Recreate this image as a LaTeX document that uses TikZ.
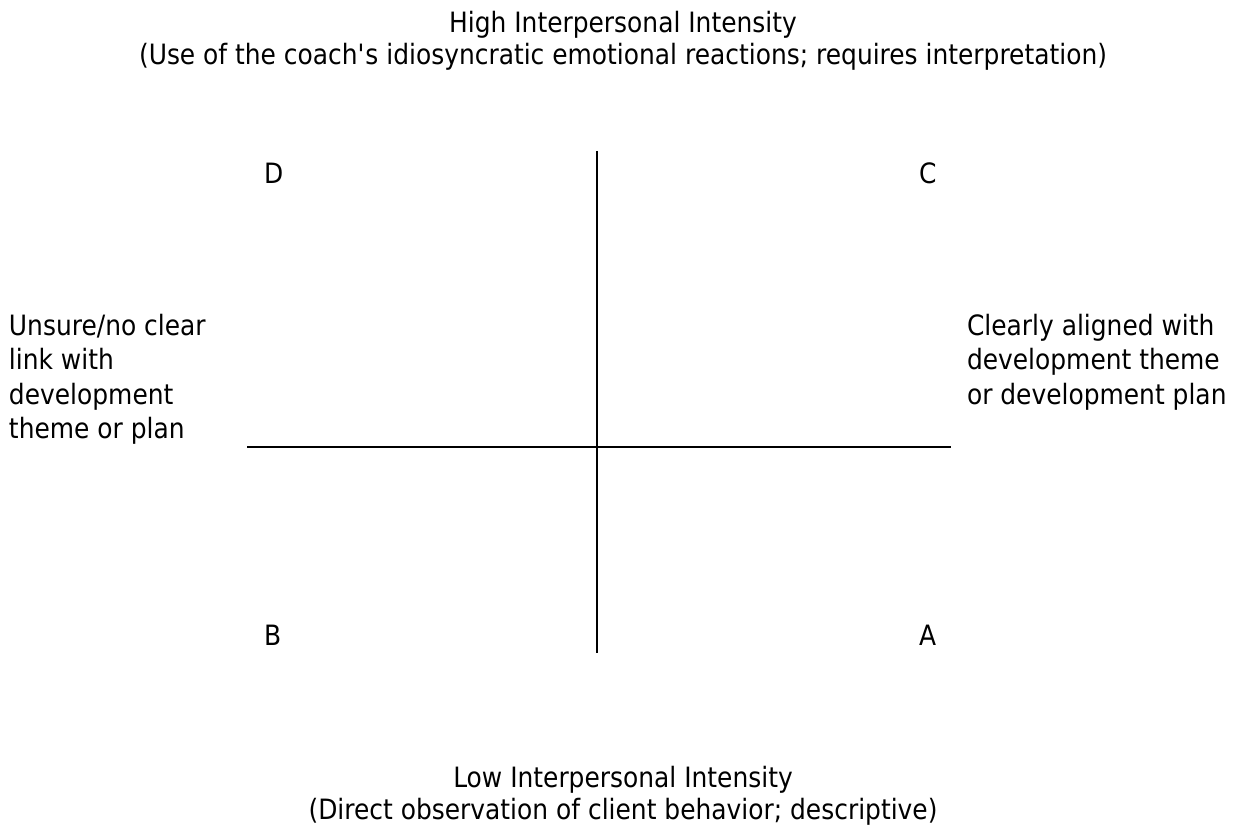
\documentclass[tikz,border=0pt]{standalone}
\usepackage{fontspec}
\setmainfont{DejaVu Sans}[FakeStretch=0.89]
\usepackage{xcolor}
\usepackage{tikz}

\begin{document}
\begin{tikzpicture}[x=1pt,y=-1pt,every node/.style={inner sep=0pt, outer sep=0pt, font=\fontsize{28}{32}\selectfont}]
\useasboundingbox (0,0) rectangle (1246,829);
\node[anchor=north,align=center] (high) at (623,11) {High Interpersonal Intensity\\(Use of the coach\textquotesingle s idiosyncratic emotional reactions; requires interpretation)};
\node[anchor=north,align=center] (low) at (623,766) {Low Interpersonal Intensity\\(Direct observation of client behavior; descriptive)};
\node[anchor=north west,align=left,font=\fontsize{28}{34.5}\selectfont] (unsure) at (9,314) {Unsure/no clear\\link with\\development\\theme or plan};
\node[anchor=north west,align=left,font=\fontsize{28}{34.5}\selectfont] (aligned) at (967,314) {Clearly aligned with\\development theme\\or development plan};
\node[anchor=base west] (qd) at (264,183) {D};
\node[anchor=base west] (qc) at (919,183) {C};
\node[anchor=base west] (qb) at (264,645) {B};
\node[anchor=base west] (qa) at (919,645) {A};
\coordinate (vtop) at (597,151);
\coordinate (vbot) at (597,653);
\coordinate (hleft) at (247,447);
\coordinate (hright) at (951,447);
\draw[color=black,line width=2.4pt] (vtop) -- (vbot);
\draw[color=black,line width=2.4pt] (hleft) -- (hright);
\end{tikzpicture}
\end{document}
